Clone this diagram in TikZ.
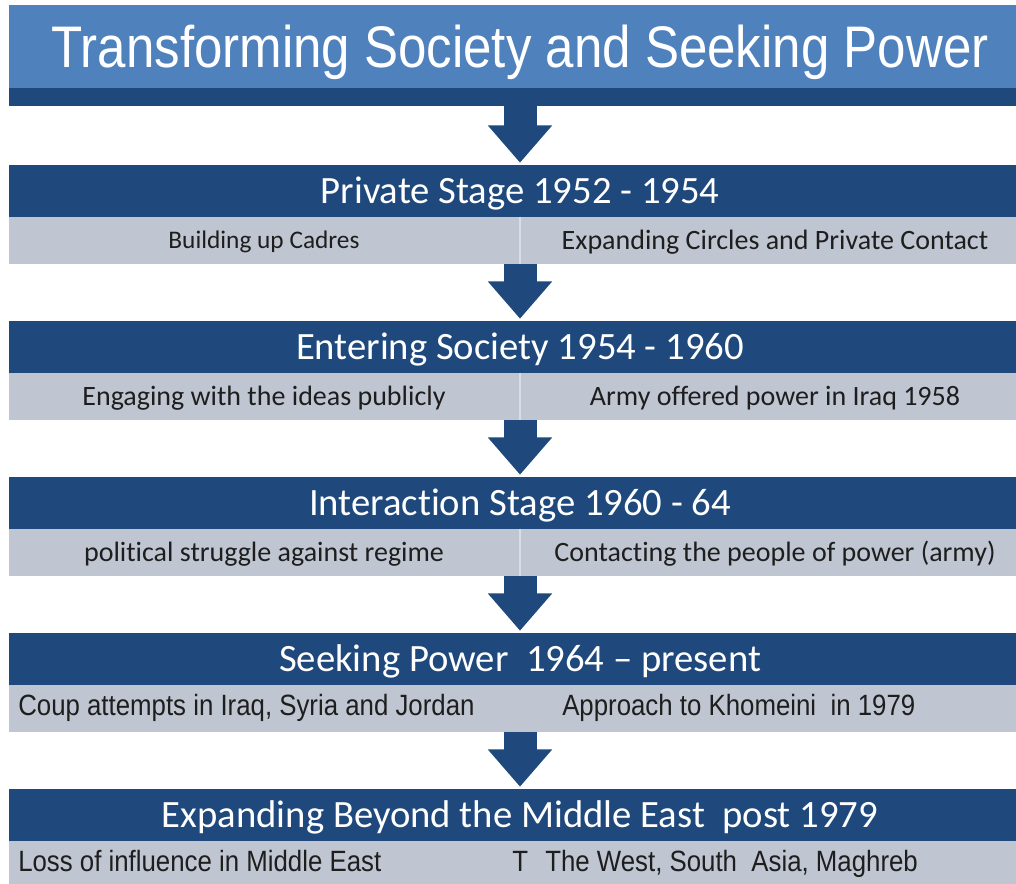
\documentclass[tikz,border=0pt]{standalone}
\usepackage{fontspec}
\usepackage{xcolor}
\usepackage{tikz}
\usetikzlibrary{arrows.meta,positioning}
\newfontfamily\calibrifont[Ligatures={NoCommon}]{Carlito}
\newfontfamily\titlefont[FakeStretch=0.87]{Liberation Sans}
\newfontfamily\arialfont[FakeStretch=0.88]{Liberation Sans}
\definecolor{titleblue}{HTML}{4F81BD}
\definecolor{stageblue}{HTML}{1F497D}
\definecolor{rowgray}{HTML}{BFC5D1}
\definecolor{rowline}{HTML}{DADDE5}
\definecolor{rowtext}{HTML}{1E1E1E}

\begin{document}
\begin{tikzpicture}[
    x=0.75pt, y=-0.75pt,
    nosep/.style={inner sep=0},
    titlebox/.style={nosep, fill=titleblue, text=white, minimum width=766.5pt, minimum height=62.25pt,
        text height=31.5pt, text depth=0pt, font=\titlefont\fontsize{44}{48}\selectfont},
    titleband/.style={nosep, fill=stageblue, minimum width=766.5pt, minimum height=13.5pt},
    stagehead/.style={nosep, fill=stageblue, text=white, minimum width=766.5pt, minimum height=39pt,
        text height=18.5pt, text depth=0pt, font=\calibrifont\fontsize{29}{32}\selectfont},
    subrow/.style={nosep, fill=rowgray, minimum width=766.5pt, minimum height=35.25pt},
    subtext/.style={nosep, text=rowtext, text height=13.5pt, text depth=0pt, font=\calibrifont\fontsize{21}{24}\selectfont},
    subarial/.style={nosep, anchor=west, text=rowtext, text height=15.75pt, text depth=0pt, font=\arialfont\fontsize{22}{25}\selectfont},
    divider/.style={draw=rowline, line width=1.5pt},
    blockarrow/.style={draw=stageblue, line width=24.75pt, shorten >=1.5pt,
        -{Triangle[width=46.5pt, length=28pt]}}]

\useasboundingbox (0,0) rectangle (1016,884);

% title
\node[titlebox] (title) at (520,46.5) {Transforming Society and Seeking Power};
\node[titleband] (band) at (520,97) {};

% stages
\node[stagehead] (head1) at (520,191) {Private Stage 1952 - 1954};
\node[subrow] (sub1) at (520,240.5) {};
\node[stagehead] (head2) at (520,347) {Entering Society 1954 - 1960};
\node[subrow] (sub2) at (520,396.5) {};
\node[stagehead] (head3) at (520,503) {Interaction Stage 1960 - 64};
\node[subrow] (sub3) at (520,552.5) {};
\node[stagehead] (head4) at (520,659) {Seeking Power\ \ 1964 – present};
\node[subrow] (sub4) at (520,708.5) {};
\node[stagehead] (head5) at (520,815) {Expanding Beyond the Middle East\ \ post 1979};
\node[subrow] (sub5) at (520,864.5) {};

\draw[divider] (sub1.north) -- (sub1.south);
\draw[divider] (sub2.north) -- (sub2.south);
\draw[divider] (sub3.north) -- (sub3.south);

% row texts
\node[subtext, font=\calibrifont\fontsize{19}{22}\selectfont, text height=12.2pt] (cadres) at (264,240) {Building up Cadres};
\node[subtext] (circles) at (775,240) {Expanding Circles and Private Contact};
\node[subtext] (ideas) at (264,396) {Engaging with the ideas publicly};
\node[subtext] (army) at (775,396) {Army offered power in Iraq 1958};
\node[subtext] (struggle) at (264,552) {political struggle against regime};
\node[subtext] (contact) at (775,552) {Contacting the people of power (army)};
\node[subarial] (coup) at (18,704.5) {Coup attempts in Iraq, Syria and Jordan};
\node[subarial] (khomeini) at (562,704.5) {Approach to Khomeini\ \ in 1979};
\node[subarial] (loss) at (18,860.5) {Loss of influence in Middle East};
\node[subarial] (tee) at (512,860.5) {T};
\node[subarial] (west) at (545,860.5) {The West, South\ \ Asia, Maghreb};

% arrows
\draw[blockarrow] (band.south) -- (head1.north);
\foreach \a/\b in {1/2, 2/3, 3/4, 4/5}
    \draw[blockarrow] (sub\a.south) -- (head\b.north);

\end{tikzpicture}
\end{document}
